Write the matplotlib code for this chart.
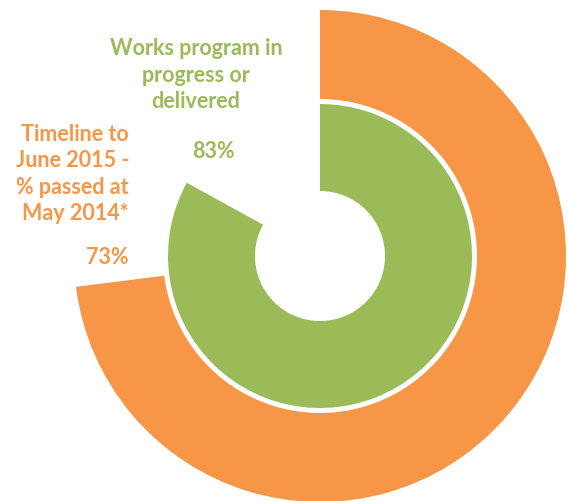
import matplotlib.pyplot as plt

# ring values (percent)
timeline_pct = 73
works_pct = 83

timeline_label = "Timeline to\nJune 2015 -\n% passed at\nMay 2014*"
works_label = "Works program in\nprogress or\ndelivered"

orange = "#F79646"
green = "#9BBB59"

plt.rcParams['font.family'] = ['Lato', 'DejaVu Sans']

fig = plt.figure(figsize=(5.69, 5.02), dpi=100)
ax = fig.add_axes([0, 0, 1, 1])
ax.set_xlim(0, 569)
ax.set_ylim(0, 502)
ax.set_aspect('equal')
ax.axis('off')

cx, cy = 320, 502 - 257

# outer ring - timeline
ax.pie([timeline_pct, 100 - timeline_pct], radius=246, center=(cx, cy),
       startangle=90, counterclock=False, colors=[orange, 'none'],
       wedgeprops=dict(width=89, linewidth=0))

# inner ring - works program
ax.pie([works_pct, 100 - works_pct], radius=152, center=(cx, cy),
       startangle=90, counterclock=False, colors=[green, 'none'],
       wedgeprops=dict(width=87, linewidth=0))

ax.set_xlim(0, 569)
ax.set_ylim(0, 502)

fs = 15.5
ax.text(196, 502 - 75, works_label, color=green, fontsize=fs, fontweight='bold',
        ha='center', va='center', linespacing=1.3)
ax.text(213, 502 - 152, f"{works_pct}%", color=green, fontsize=fs,
        fontweight='bold', ha='center', va='center')

ax.text(129, 502 - 174, timeline_label, color=orange, fontsize=fs,
        fontweight='bold', ha='right', va='center', linespacing=1.3)
ax.text(129, 502 - 258, f"{timeline_pct}%", color=orange, fontsize=fs,
        fontweight='bold', ha='right', va='center')

fig.savefig("out.png", dpi=100)
